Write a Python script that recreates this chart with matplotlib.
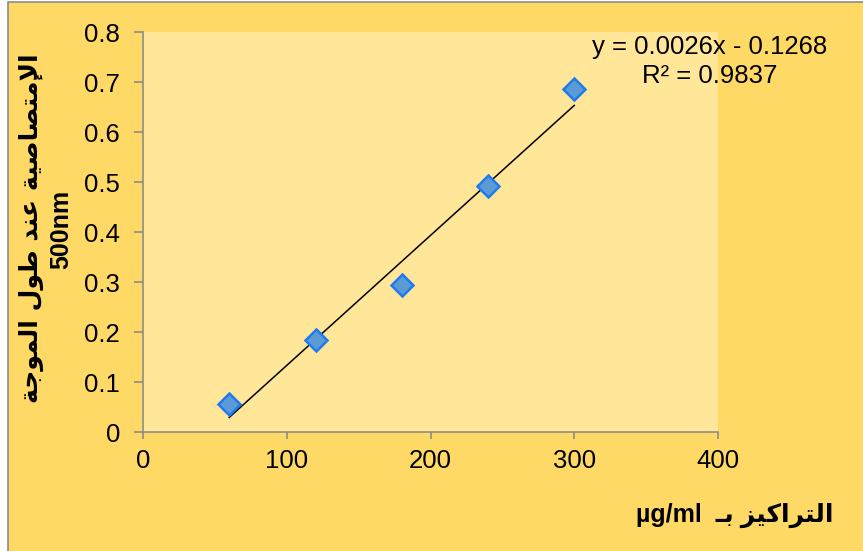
import numpy as np
import matplotlib
matplotlib.use("Agg")
import matplotlib.pyplot as plt
from matplotlib.patches import Rectangle

# data
concentration = [60, 120, 180, 240, 300]
absorbance = [0.057, 0.185, 0.295, 0.492, 0.687]
slope = 0.0026
intercept = -0.1268
r_squared = 0.9837

x_ticks = [0, 100, 200, 300, 400]
y_ticks = [0, 0.1, 0.2, 0.3, 0.4, 0.5, 0.6, 0.7, 0.8]

y_title = "الإمتصاصية عند طول الموجة"
y_unit = "500nm"
x_title = "التراكيز بـ"
x_unit = "µg/ml"

# very small arabic shaper (matplotlib has no shaping / bidi)
# char: (isolated, final, initial, medial); None -> joins only to the right
FORMS = {
    "ا": (0xFE8D, 0xFE8E, None, None),
    "إ": (0xFE87, 0xFE88, None, None),
    "ل": (0xFEDD, 0xFEDE, 0xFEDF, 0xFEE0),
    "م": (0xFEE1, 0xFEE2, 0xFEE3, 0xFEE4),
    "ت": (0xFE95, 0xFE96, 0xFE97, 0xFE98),
    "ص": (0xFEB9, 0xFEBA, 0xFEBB, 0xFEBC),
    "ي": (0xFEF1, 0xFEF2, 0xFEF3, 0xFEF4),
    "ة": (0xFE93, 0xFE94, None, None),
    "ع": (0xFEC9, 0xFECA, 0xFECB, 0xFECC),
    "ن": (0xFEE5, 0xFEE6, 0xFEE7, 0xFEE8),
    "د": (0xFEA9, 0xFEAA, None, None),
    "ط": (0xFEC1, 0xFEC2, 0xFEC3, 0xFEC4),
    "و": (0xFEED, 0xFEEE, None, None),
    "ج": (0xFE9D, 0xFE9E, 0xFE9F, 0xFEA0),
    "ر": (0xFEAD, 0xFEAE, None, None),
    "ك": (0xFED9, 0xFEDA, 0xFEDB, 0xFEDC),
    "ز": (0xFEAF, 0xFEB0, None, None),
    "ب": (0xFE8F, 0xFE90, 0xFE91, 0xFE92),
}
LAM_ALEF = {"ا": (0xFEFB, 0xFEFC), "إ": (0xFEF9, 0xFEFA)}
TATWEEL = "ـ"


def joins_left(c):
    return c == TATWEEL or (c in FORMS and FORMS[c][2] is not None)


def joins(c):
    return c == TATWEEL or c in FORMS


def shape_word(word):
    out = []
    i = 0
    while i < len(word):
        c = word[i]
        prev = word[i - 1] if i > 0 else ""
        nxt = word[i + 1] if i + 1 < len(word) else ""
        linked_prev = prev != "" and joins_left(prev)
        if c == "ل" and nxt in LAM_ALEF:
            iso, fin = LAM_ALEF[nxt]
            out.append(chr(fin if linked_prev else iso))
            i += 2
            continue
        if c not in FORMS:
            out.append(c)
            i += 1
            continue
        iso, fin, ini, med = FORMS[c]
        linked_next = ini is not None and nxt != "" and joins(nxt)
        if linked_prev and linked_next:
            out.append(chr(med))
        elif linked_prev:
            out.append(chr(fin))
        elif linked_next:
            out.append(chr(ini))
        else:
            out.append(chr(iso))
        i += 1
    return "".join(out)


def arabic(text):
    shaped = " ".join(shape_word(w) for w in text.split(" "))
    return shaped[::-1]


plt.rcParams['font.family'] = ['Liberation Sans', 'DejaVu Sans']

fig = plt.figure(figsize=(8.63, 5.51), dpi=100, facecolor="white")
fig.patches.append(Rectangle((8 / 863, -0.05), 1.1, 1 - 2 / 551 + 0.05,
                             transform=fig.transFigure, facecolor="#FFD966",
                             edgecolor="#8C8C8C", linewidth=1.2, zorder=-5))

ax = fig.add_axes([143 / 863, 1 - 432 / 551, (718 - 143) / 863, 400 / 551])
ax.set_facecolor("#FFE699")

ax.plot(concentration, absorbance, linestyle="none", marker="D", markersize=11,
        markerfacecolor="#5B9BD5", markeredgecolor="#1E7BF0", markeredgewidth=1.8,
        zorder=3, clip_on=False)

fit_x = np.array([concentration[0], concentration[-1]])
ax.plot(fit_x, slope * fit_x + intercept, color="black", linewidth=1.1, zorder=2)

ax.set_xlim(0, 400)
ax.set_ylim(0, 0.8)
ax.set_xticks(x_ticks)
ax.set_yticks(y_ticks)
ax.set_xticklabels([str(v) for v in x_ticks])
ax.set_yticklabels(["0"] + [f"{v:.1f}" for v in y_ticks[1:]])
ax.tick_params(axis="both", labelsize=18.5, width=1.2, color="#8C8C8C",
               direction="out")
ax.tick_params(axis="y", length=6.5, pad=10)
ax.tick_params(axis="x", length=5, pad=7)
for side in ["top", "right"]:
    ax.spines[side].set_visible(False)
for side in ["left", "bottom"]:
    ax.spines[side].set_color("#8C8C8C")
    ax.spines[side].set_linewidth(1.2)

fig.text(710 / 863, 1 - 47 / 551, f"y = {slope:.4f}x - {abs(intercept):.4f}",
         ha="center", va="center", fontsize=18.5)
fig.text(710 / 863, 1 - 76 / 551, f"R² = {r_squared:.4f}",
         ha="center", va="center", fontsize=18.5)

fig.text(31 / 863, 1 - 228 / 551, arabic(y_title), rotation=90, ha="center",
         va="center", fontsize=18, fontweight="bold", family="DejaVu Sans")
fig.text(61 / 863, 1 - 229 / 551, y_unit, rotation=90, ha="center",
         va="center", fontsize=18, fontweight="bold")

fig.text(735 / 863, 1 - 515 / 551, x_unit + "  " + arabic(x_title),
         ha="center", va="center", fontsize=18, fontweight="bold",
         family=["Liberation Sans", "DejaVu Sans"])

fig.savefig("out.png", dpi=100, facecolor=fig.get_facecolor())
